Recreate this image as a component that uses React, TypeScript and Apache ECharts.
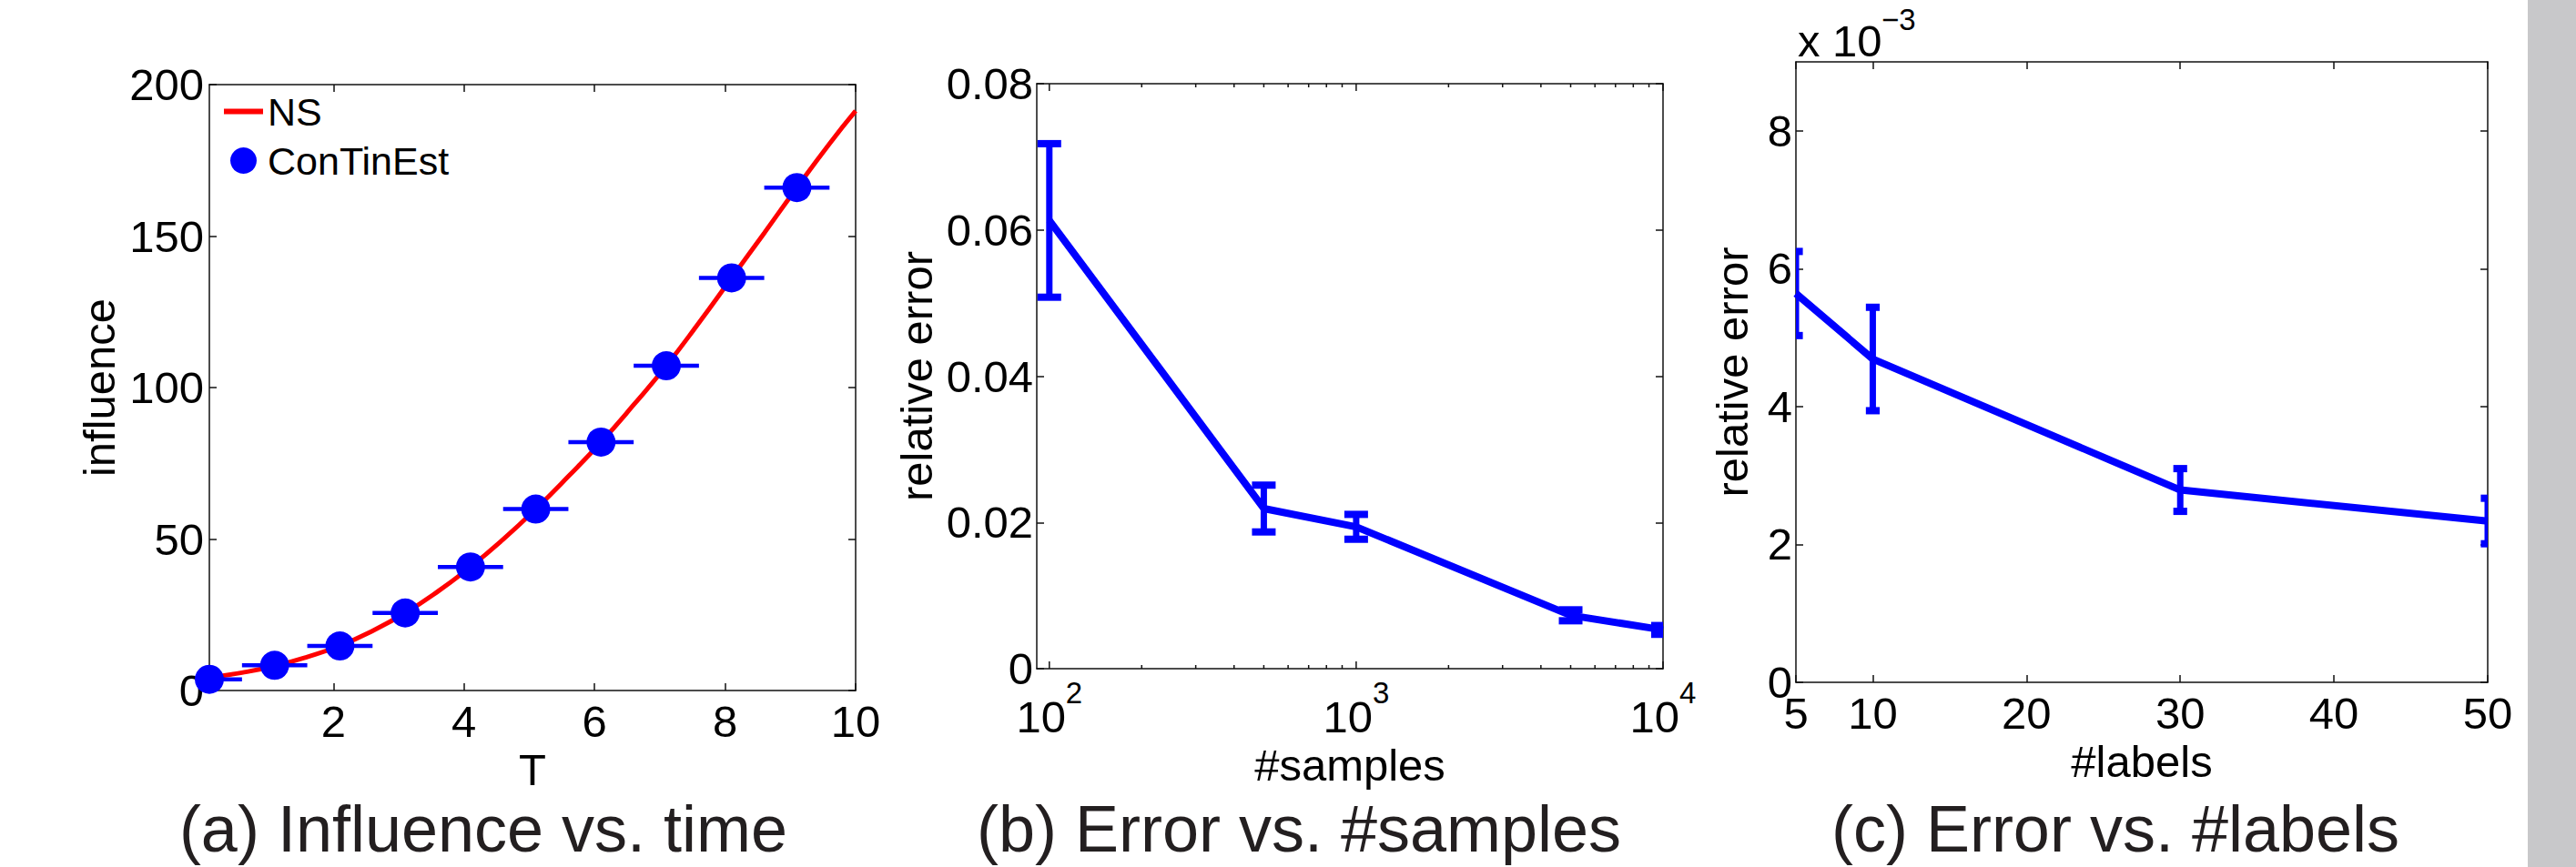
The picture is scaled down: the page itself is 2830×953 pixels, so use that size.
import React, { useEffect, useRef } from "react";
import * as echarts from "echarts";

// ---------- (a) Influence vs. time ----------
const timeT = [0.1, 1.1, 2.1, 3.1, 4.1, 5.1, 6.1, 7.1, 8.1, 9.1];
const conTinEst = [3.7, 8.3, 14.7, 25.6, 40.8, 59.9, 82.0, 107.2, 136.2, 166.0];
const conTinEstTErr = [0.5, 0.5, 0.5, 0.5, 0.5, 0.5, 0.5, 0.5, 0.5, 0.5];
const nsT = [0.1, 0.6, 1.1, 1.6, 2.1, 2.6, 3.1, 3.6, 4.1, 4.6, 5.1, 5.6, 6.1, 6.6, 7.1, 7.6, 8.1, 8.6, 9.1, 9.6, 10];
const nsInfluence = [4.3, 5.9, 8.1, 11.1, 14.8, 19.7, 25.6, 32.7, 40.8, 49.9, 59.9, 70.7, 82.0, 94.3, 107.2, 121.4, 136.2, 151.0, 166.0, 180.5, 191.3];
const timeTicks = [2, 4, 6, 8, 10];

// ---------- (b) Error vs. #samples ----------
const samples = [100, 500, 1000, 5000, 10000];
const samplesError = [0.0613, 0.0219, 0.0194, 0.0073, 0.0053];
const samplesErrorStd = [0.0105, 0.0032, 0.0017, 0.00075, 0.0006];
const samplesMajorTicks = [100, 1000, 10000];
const samplesMinorTicks = [200, 300, 400, 500, 600, 700, 800, 900, 2000, 3000, 4000, 5000, 6000, 7000, 8000, 9000];

// ---------- (c) Error vs. #labels ----------
const labelsCount = [5, 10, 30, 50];
const labelsError = [0.00564, 0.00469, 0.00279, 0.00234];
const labelsErrorStd = [0.00061, 0.00075, 0.00031, 0.00033];
const labelsTicks = [5, 10, 20, 30, 40, 50];
const labelsErrorTicks = [0, 0.002, 0.004, 0.006, 0.008];

const captions = ["(a) Influence vs. time", "(b) Error vs. #samples", "(c) Error vs. #labels"];

const FONT = "'Liberation Sans', Arial, Helvetica, sans-serif";
const BLUE = "#0000ff";
const RED = "#ff0000";
const AXIS = "#111111";
const FS = 49;

function axisLine() {
  return { show: true, onZero: false, lineStyle: { color: AXIS, width: 1.5 } };
}
function ticks(len: number, custom?: number[], show = true) {
  const t: any = { show, inside: true, length: len, lineStyle: { color: AXIS, width: 1.5 } };
  if (custom) t.customValues = custom;
  return t;
}
function labels(margin: number, custom?: number[], extra: any = {}) {
  const l: any = { show: true, color: "#000", fontSize: FS, fontFamily: FONT, margin, ...extra };
  if (custom) l.customValues = custom;
  return l;
}
const nameStyle = { color: "#000", fontSize: FS, fontFamily: FONT };

function vErrorBars(capHalf: number) {
  return (params: any, api: any) => {
    const x = api.value(0);
    const lo = api.coord([x, api.value(1)]);
    const hi = api.coord([x, api.value(2)]);
    const st = { stroke: BLUE, lineWidth: 7 };
    const cs = { stroke: BLUE, lineWidth: 8 };
    return {
      type: "group",
      children: [
        { type: "line", shape: { x1: lo[0], y1: lo[1], x2: hi[0], y2: hi[1] }, style: st },
        { type: "line", shape: { x1: lo[0] - capHalf, y1: lo[1], x2: lo[0] + capHalf, y2: lo[1] }, style: cs },
        { type: "line", shape: { x1: hi[0] - capHalf, y1: hi[1], x2: hi[0] + capHalf, y2: hi[1] }, style: cs },
      ],
    };
  };
}

export default function App() {
  const ref = useRef<HTMLDivElement>(null);
  useEffect(() => {
    const chart = echarts.init(ref.current!, null, { renderer: "svg" });
    const option: any = {
      animation: false,
      backgroundColor: "#ffffff",
      textStyle: { fontFamily: FONT },
      grid: [
        { left: 230, top: 93, width: 710, height: 666 },
        { left: 1139, top: 92, width: 688, height: 643 },
        { left: 1973, top: 68, width: 760, height: 682 },
      ],
      legend: {
        orient: "vertical",
        left: 246,
        top: 101,
        padding: 0,
        itemGap: 11,
        itemWidth: 43,
        itemHeight: 29,
        textStyle: { color: "#000", fontSize: 43, fontFamily: FONT },
        data: [
          { name: "NS", icon: "path://M0,0L43,0L43,6L0,6Z" },
          { name: "ConTinEst", icon: "circle" },
        ],
      },
      xAxis: [
        {
          type: "value", gridIndex: 0, position: "bottom", min: 0.1, max: 10,
          axisLine: axisLine(), axisTick: ticks(8, timeTicks), axisLabel: labels(9, timeTicks),
          splitLine: { show: false },
          name: "T", nameLocation: "middle", nameGap: 40, nameTextStyle: nameStyle,
        },
        {
          type: "value", gridIndex: 0, position: "top", min: 0.1, max: 10,
          axisLine: axisLine(), axisTick: ticks(8, timeTicks), axisLabel: { show: false },
          splitLine: { show: false },
        },
        {
          type: "log", logBase: 10, gridIndex: 1, position: "bottom", min: 91, max: 10000,
          axisLine: axisLine(), axisTick: { show: false },
          axisLabel: labels(10, samplesMajorTicks, {
            formatter: (v: number) => `{b|10}{s|${Math.round(Math.log10(v))}}`,
            rich: {
              b: { fontSize: FS, fontFamily: FONT, color: "#000", padding: [18, 0, 0, 0], verticalAlign: "bottom" },
              s: { fontSize: 33, fontFamily: FONT, color: "#000", verticalAlign: "top" },
            },
          }),
          splitLine: { show: false }, minorTick: { show: false }, minorSplitLine: { show: false },
          name: "#samples", nameLocation: "middle", nameGap: 46, nameTextStyle: nameStyle,
        },
        {
          type: "log", logBase: 10, gridIndex: 1, position: "top", min: 91, max: 10000,
          axisLine: axisLine(), axisTick: { show: false }, axisLabel: { show: false },
          splitLine: { show: false },
        },
        {
          type: "value", gridIndex: 2, position: "bottom", min: 5, max: 50,
          axisLine: axisLine(), axisTick: ticks(8, labelsTicks), axisLabel: labels(9, labelsTicks),
          splitLine: { show: false },
          name: "#labels", nameLocation: "middle", nameGap: 42, nameTextStyle: nameStyle,
        },
        {
          type: "value", gridIndex: 2, position: "top", min: 5, max: 50,
          axisLine: axisLine(), axisTick: ticks(8, labelsTicks), axisLabel: { show: false },
          splitLine: { show: false },
        },
      ],
      yAxis: [
        {
          type: "value", gridIndex: 0, position: "left", min: 0, max: 200, interval: 50,
          axisLine: axisLine(), axisTick: ticks(8), axisLabel: labels(6),
          splitLine: { show: false },
          name: "influence", nameLocation: "middle", nameGap: 97, nameTextStyle: nameStyle,
        },
        {
          type: "value", gridIndex: 0, position: "right", min: 0, max: 200, interval: 50,
          axisLine: axisLine(), axisTick: ticks(8), axisLabel: { show: false },
          splitLine: { show: false },
        },
        {
          type: "value", gridIndex: 1, position: "left", min: 0, max: 0.08, interval: 0.02,
          axisLine: axisLine(), axisTick: ticks(8),
          axisLabel: labels(4, undefined, { formatter: (v: number) => (v === 0 ? "0" : v.toFixed(2)) }),
          splitLine: { show: false },
          name: "relative error", nameLocation: "middle", nameGap: 108, nameTextStyle: nameStyle,
        },
        {
          type: "value", gridIndex: 1, position: "right", min: 0, max: 0.08, interval: 0.02,
          axisLine: axisLine(), axisTick: ticks(8), axisLabel: { show: false },
          splitLine: { show: false },
        },
        {
          type: "value", gridIndex: 2, position: "left", min: 0, max: 0.009,
          axisLine: axisLine(), axisTick: ticks(8, labelsErrorTicks),
          axisLabel: labels(4, labelsErrorTicks, { formatter: (v: number) => String(Math.round(v * 1000)) }),
          splitLine: { show: false },
          name: "relative error", nameLocation: "middle", nameGap: 46, nameTextStyle: nameStyle,
        },
        {
          type: "value", gridIndex: 2, position: "right", min: 0, max: 0.009,
          axisLine: axisLine(), axisTick: ticks(8, labelsErrorTicks), axisLabel: { show: false },
          splitLine: { show: false },
        },
      ],
      series: [
        // (a)
        {
          name: "NS", type: "line", xAxisIndex: 0, yAxisIndex: 0, z: 2,
          data: nsT.map((t, i) => [t, nsInfluence[i]]),
          smooth: true, symbol: "none", lineStyle: { color: RED, width: 5 }, itemStyle: { color: RED },
        },
        {
          name: "ConTinEst-range", type: "custom", xAxisIndex: 0, yAxisIndex: 0, z: 3, clip: true,
          data: timeT.map((t, i) => [t, conTinEst[i], conTinEstTErr[i]]),
          encode: { x: 0, y: 1 },
          renderItem: (params: any, api: any) => {
            const t = api.value(0), v = api.value(1), e = api.value(2);
            const a = api.coord([t - e, v]);
            const b = api.coord([t + e, v]);
            return { type: "line", shape: { x1: a[0], y1: a[1], x2: b[0], y2: b[1] }, style: { stroke: BLUE, lineWidth: 4.5 } };
          },
        },
        {
          name: "ConTinEst", type: "scatter", xAxisIndex: 0, yAxisIndex: 0, z: 4, clip: false,
          data: timeT.map((t, i) => [t, conTinEst[i]]),
          symbol: "circle", symbolSize: 32, itemStyle: { color: BLUE, opacity: 1 },
        },
        // (b)
        {
          name: "samples-ticks", type: "custom", xAxisIndex: 2, yAxisIndex: 2, z: 5,
          data: [...samplesMajorTicks.map((v) => [v, 8]), ...samplesMinorTicks.map((v) => [v, 4])],
          encode: { x: 0 },
          renderItem: (params: any, api: any) => {
            const x = api.coord([api.value(0), 0])[0];
            const len = api.value(1);
            const cs = params.coordSys;
            const top = cs.y, bottom = cs.y + cs.height;
            const st = { stroke: AXIS, lineWidth: 1.5 };
            return {
              type: "group",
              children: [
                { type: "line", shape: { x1: x, y1: bottom, x2: x, y2: bottom - len }, style: st },
                { type: "line", shape: { x1: x, y1: top, x2: x, y2: top + len }, style: st },
              ],
            };
          },
        },
        {
          name: "samples-error", type: "line", xAxisIndex: 2, yAxisIndex: 2, z: 3,
          data: samples.map((s, i) => [s, samplesError[i]]),
          symbol: "none", lineStyle: { color: BLUE, width: 8 }, itemStyle: { color: BLUE },
        },
        {
          name: "samples-std", type: "custom", xAxisIndex: 2, yAxisIndex: 2, z: 4, clip: true,
          data: samples.map((s, i) => [s, samplesError[i] - samplesErrorStd[i], samplesError[i] + samplesErrorStd[i]]),
          encode: { x: 0, y: [1, 2] },
          renderItem: vErrorBars(13),
        },
        // (c)
        {
          name: "labels-error", type: "line", xAxisIndex: 4, yAxisIndex: 4, z: 3,
          data: labelsCount.map((s, i) => [s, labelsError[i]]),
          symbol: "none", lineStyle: { color: BLUE, width: 8 }, itemStyle: { color: BLUE },
        },
        {
          name: "labels-std", type: "custom", xAxisIndex: 4, yAxisIndex: 4, z: 4, clip: true,
          data: labelsCount.map((s, i) => [s, labelsError[i] - labelsErrorStd[i], labelsError[i] + labelsErrorStd[i]]),
          encode: { x: 0, y: [1, 2] },
          renderItem: vErrorBars(7.6),
        },
      ],
      graphic: [
        { type: "rect", silent: true, z: 0, shape: { x: 2777, y: 0, width: 53, height: 953 }, style: { fill: "#c8c8ca" } },
        {
          type: "text", x: 1975, y: 45, silent: true,
          style: { text: "x 10", fill: "#000", fontSize: FS, fontFamily: FONT, align: "left", verticalAlign: "middle" },
        },
        {
          type: "text", x: 2067, y: 21, silent: true,
          style: { text: "\u22123", fill: "#000", fontSize: 33, fontFamily: FONT, align: "left", verticalAlign: "middle" },
        },
        ...captions.map((c, i) => ({
          type: "text", x: [531, 1427, 2324][i], y: 911, silent: true,
          style: { text: c, fill: "#231f20", fontSize: 72, fontFamily: FONT, align: "center", verticalAlign: "middle" },
        })),
      ],
    };
    chart.setOption(option);
    return () => chart.dispose();
  }, []);
  return (
    <div
      ref={ref}
      style={{ position: "absolute", left: 0, top: 0, width: 2830, height: 953, background: "#fff" }}
    />
  );
}
